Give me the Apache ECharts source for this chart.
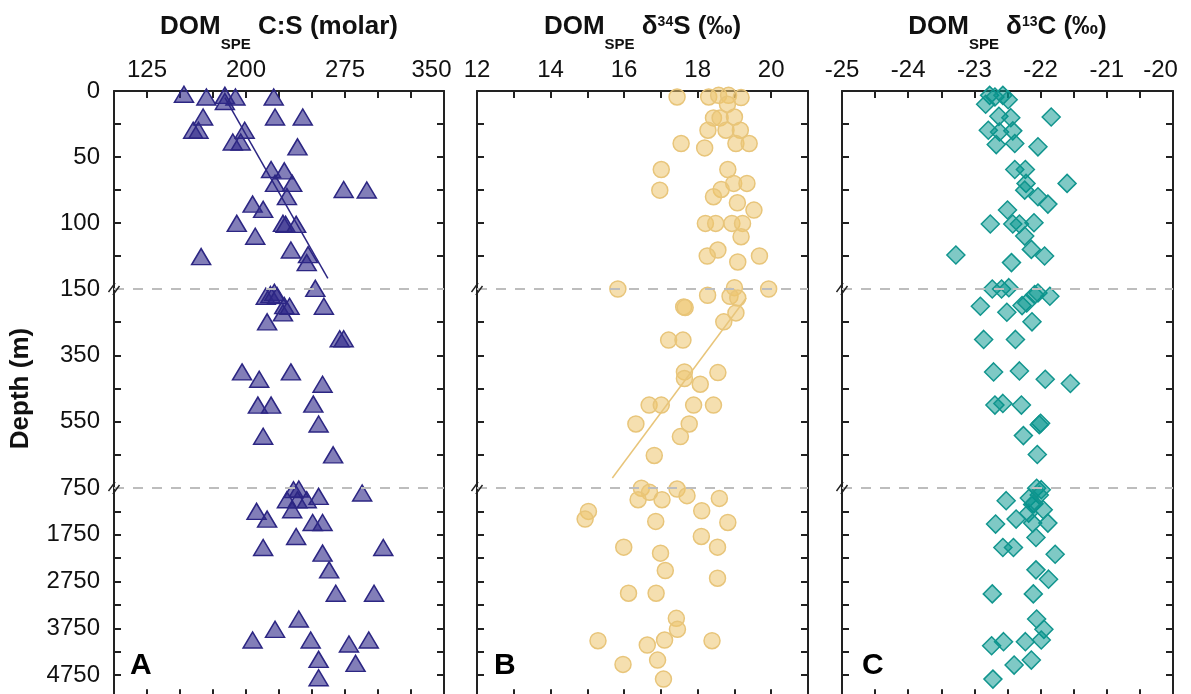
<!DOCTYPE html>
<html><head><meta charset="utf-8">
<script src="https://cdn.jsdelivr.net/npm/echarts@6/dist/echarts.min.js"></script>
<style>html,body{margin:0;padding:0;overflow:hidden;background:#fff}#c{width:1191px;height:700px}</style>
</head><body><div id="c"></div><script>
// ---------------- DATA ----------------
// depth segments of the broken depth axis (m)
const depthSegments = [[0, 150], [150, 750], [750, 5200]];
const depthTicks = [[25, 50, 75, 100, 125], [250, 350, 450, 550, 650], [1250, 1750, 2250, 2750, 3250, 3750, 4250, 4750]];
const depthLabels = [[0, 50, 100, 150], [350, 550, 750], [1750, 2750, 3750, 4750]];

// Panel A: DOM_SPE C:S (molar)  [value, depth]
const csRange = [100, 350];
const csTicks = [125, 150, 175, 200, 225, 250, 275, 300, 325];
const csLabels = [125, 200, 275, 350];
const csPoints = [
  [153,2.5],[170,4.5],[184,3.3],[192,4.5],[184,8],[221,4.5],
  [167.5,19.7],[222,19.7],[243,19.7],[160,29.7],[164,29.7],[199,29.7],
  [190,38.6],[196,38.6],[239,42.3],[219,59.5],[229,60.5],[222,70],[235,70],
  [274,74.6],[291.5,75],[231,80],[205,85.7],[213,89.7],[193,100.3],[228,100.3],
  [230,101],[238,101],[207,110],[234,120.5],[247,124],[246,130],[166,125.5],[252.5,149.5],
  [215,172],[218.5,167],[221.5,160],[223.5,170],[228,222],[229,200],[233,202],[259,202],
  [216,249],[271,300],[274,300],[197,400],[210,422],[234,400],[258,437],[209,500],
  [219,500],[251,497],[255,557],[213,594],[266,650],
  [236,786],[240,772],[231,1000],[239,1000],[246,1000],[255,929],[288,857],[208,1250],
  [216,1414],[235,1215],[250.5,1486],[258,1486],[238,1786],[213,2021],[304,2021],[258,2142],
  [263,2499],[268,2998],[297,2998],[240,3548],[222,3769],[205,3998],[249,3998],[278,4083],
  [293,3998],[255,4411],[283,4497],[255,4804]
];
const csTrend = [[184,5],[262,142]];

// Panel B: DOM_SPE δ34S (‰)
const s34Range = [12, 21];
const s34Ticks = [13, 14, 15, 16, 17, 18, 19, 20];
const s34Labels = [12, 14, 16, 18, 20];
const s34Points = [
  [17.44,4.5],[18.30,4.5],[18.57,3.3],[18.84,3.3],[19.18,5],[18.81,10],[18.43,20.4],[18.61,20.4],
  [19.00,19.7],[18.28,29.7],[18.77,29.7],[19.16,29.7],[17.55,39.8],[18.19,43.1],[19.04,39.8],
  [19.40,39.8],[17.01,59.5],[18.82,59.5],[18.98,70],[19.34,70],[18.64,74.6],[16.97,75.1],
  [18.43,80.1],[19.08,84.7],[19.53,90.2],[18.21,100.3],[18.49,100.3],[18.93,100.3],[19.22,100.3],
  [19.18,110.4],[18.55,120.5],[18.26,125],[19.09,129.5],[19.68,125],[15.83,150],[19.0,149],[19.93,150],
  [18.27,169],[18.88,172],[19.09,177],[17.62,204],[17.66,206],[19.04,222],[18.71,249],[17.21,304],
  [17.60,304],[17.64,400],[17.64,420],[18.55,402],[18.07,437],[16.68,500],[17.01,500],[17.89,500],
  [18.43,500],[16.32,557],[17.77,557],[17.53,595],[16.82,652],
  [16.47,755],[16.69,843],[17.44,772],[17.71,914],[16.38,1000],[17.03,1000],[18.59,972],[15.03,1250],
  [14.94,1414],[16.86,1464],[18.11,1236],[18.82,1486],[18.10,1786],[18.54,2014],[15.99,2014],
  [16.99,2142],[17.12,2513],[18.54,2677],[16.12,2998],[16.87,2998],[17.42,3534],[17.45,3769],
  [15.29,4012],[17.10,3998],[18.39,4012],[16.63,4105],[16.91,4426],[15.97,4519],[17.07,4833]
];
const s34Trend = [[19.32,177],[15.68,720]];

// Panel C: DOM_SPE δ13C (‰)
const c13Range = [-25, -20];
const c13Ticks = [-24.5, -24, -23.5, -23, -22.5, -22, -21.5, -21, -20.5];
const c13Labels = [-25, -24, -23, -22, -21, -20];
const c13Points = [
  [-22.77,3.3],[-22.69,4.5],[-22.57,3.3],[-22.49,6.6],[-22.83,10],[-22.63,19.2],[-22.45,20.2],
  [-21.84,19.7],[-22.79,29.7],[-22.62,31],[-22.42,30.2],[-22.67,40.6],[-22.39,39.8],[-22.04,42.3],
  [-22.39,59.5],[-22.23,59.5],[-22.22,70],[-22.24,75.1],[-21.60,70],[-22.04,80.1],[-21.89,85.7],
  [-22.50,90.2],[-22.76,100.8],[-22.42,100.8],[-22.32,100.8],[-22.10,99.8],[-22.24,109.9],
  [-22.14,120],[-21.94,125],[-23.28,124.2],[-22.44,130],[-22.73,150],[-22.59,150],[-22.48,149],
  [-22.09,167],[-22.04,162],[-21.86,172],[-22.91,202],[-22.51,220],[-22.28,200],[-22.21,192],
  [-22.13,249],[-22.86,302],[-22.38,302],[-22.71,400],[-22.32,397],[-21.93,422],[-21.55,435],
  [-22.69,500],[-22.57,495],[-22.29,500],[-22.00,555],[-22.02,559],[-22.26,592],[-22.05,649],
  [-22.06,755],[-21.99,786],[-22.02,900],[-22.17,964],[-22.52,1021],[-22.10,1086],[-22.12,1100],
  [-21.96,1214],[-22.18,1286],[-22.68,1521],[-22.37,1414],[-22.12,1500],[-21.89,1500],[-22.07,1807],
  [-22.57,2021],[-22.41,2021],[-21.78,2164],[-22.07,2499],[-21.88,2698],[-22.73,3012],[-22.11,3012],
  [-22.06,3548],[-21.95,3769],[-22.74,4119],[-22.56,4033],[-22.23,4033],[-21.99,3998],[-22.40,4533],
  [-22.14,4426],[-22.72,4833]
];

const titleA = '{m|DOM}{s|SPE}{m| C:S (molar)}';
const titleB = '{m|DOM}{s|SPE}{m| δ}{p|34}{m|S (‰)}';
const titleC = '{m|DOM}{s|SPE}{m| δ}{p|13}{m|C (‰)}';
const panelLetters = ['A', 'B', 'C'];
const depthName = 'Depth (m)';

// ---------------- LAYOUT / STYLE ----------------
const FONT = '"Liberation Sans", Arial, Helvetica, sans-serif';
const AX = '#222';
const TXT = '#111';
const panelLeft = [114, 477, 842];
const panelWidth = [330, 331, 331];
const rowTop = [91, 289, 488];
const rowHeight = [198, 199, 208.3];

const panels = [
  { range: csRange, ticks: csTicks, labels: csLabels, pts: csPoints, trend: csTrend, trendRow: 0, shift: 350,
    sym: 'triangle', size: [19, 16], fill: 'rgba(47,40,137,0.6)', stroke: '#2c2683', title: titleA },
  { range: s34Range, ticks: s34Ticks, labels: s34Labels, pts: s34Points, trend: s34Trend, trendRow: 1, shift: null,
    sym: 'circle', size: 16, fill: 'rgba(236,196,110,0.55)', stroke: '#e8c57a', title: titleB },
  { range: c13Range, ticks: c13Ticks, labels: c13Labels, pts: c13Points, trend: null, shift: -20,
    sym: 'diamond', size: [18, 18], fill: 'rgba(0,148,140,0.5)', stroke: '#11958e', title: titleC }
];

function inRow(d, r) {
  const [lo, hi] = depthSegments[r];
  return r === 0 ? d <= hi : (d > lo && d <= hi);
}

const grid = [], xAxis = [], yAxis = [], series = [], graphic = [];
const lineStyle = { color: AX, width: 2 };

panels.forEach((P, p) => {
  for (let r = 0; r < 3; r++) {
    const gi = p * 3 + r;
    grid.push({ left: panelLeft[p], top: rowTop[r], width: panelWidth[p], height: rowHeight[r], containLabel: false });
    xAxis.push({
      gridIndex: gi, type: 'value', min: P.range[0], max: P.range[1],
      position: r === 2 ? 'bottom' : 'top', show: r !== 1,
      axisLine: { show: true, onZero: false, lineStyle },
      axisTick: { show: true, inside: true, length: 7, customValues: P.ticks, lineStyle },
      axisLabel: {
        show: r === 0, customValues: P.labels, margin: 9, fontSize: 24, fontFamily: FONT, color: TXT,
        formatter: v => (v === P.shift ? '{r|' + v + '}' : String(v)),
        rich: { r: { fontSize: 24, fontFamily: FONT, color: TXT, padding: [0, 25, 0, 0] } }
      },
      splitLine: { show: false }
    });
    ['left', 'right'].forEach(side => {
      const showLab = p === 0 && side === 'left';
      yAxis.push({
        gridIndex: gi, type: 'value', inverse: true, min: depthSegments[r][0], max: depthSegments[r][1],
        position: side,
        axisLine: { show: true, onZero: false, lineStyle },
        axisTick: { show: true, inside: true, length: 7, customValues: depthTicks[r], lineStyle },
        axisLabel: { show: showLab, customValues: depthLabels[r], margin: 14, fontSize: 24, fontFamily: FONT, color: TXT,
          formatter: v => String(v) },
        splitLine: { show: false },
        name: (showLab && r === 1) ? depthName : '',
        nameLocation: 'middle', nameRotate: 90, nameGap: 80,
        nameTextStyle: { fontSize: 26, fontWeight: 'bold', fontFamily: FONT, color: TXT }
      });
    });
    series.push({
      type: 'scatter', xAxisIndex: gi, yAxisIndex: gi * 2, z: 3,
      symbol: P.sym, symbolSize: P.size,
      itemStyle: { color: P.fill, borderColor: P.stroke, borderWidth: 1.5, opacity: 1 },
      data: P.pts.filter(d => inRow(d[1], r))
    });
    if (P.trend && P.trendRow === r) {
      series.push({
        type: 'line', xAxisIndex: gi, yAxisIndex: gi * 2, z: 4, symbol: 'none',
        lineStyle: { color: P.stroke, width: 1.5 }, data: P.trend
      });
    }
    if (r === 1) {
      series.push({
        type: 'line', xAxisIndex: gi, yAxisIndex: gi * 2, z: 1, data: [], silent: true,
        markLine: {
          silent: true, symbol: ['none', 'none'], label: { show: false },
          lineStyle: { color: '#bdbdbd', width: 2, type: [10, 9] },
          data: depthSegments.slice(1).map(s => ({ yAxis: s[0] }))
        },
        markPoint: {
          silent: true, symbol: 'path://M0,9 L6,0 M4,12 L10,3', symbolSize: [11, 12],
          itemStyle: { color: 'none', borderColor: AX, borderWidth: 1.5 }, label: { show: false },
          data: depthSegments.slice(1).map(s => ({ coord: [P.range[0], s[0]] }))
        }
      });
    }
  }
  graphic.push({
    type: 'text', x: panelLeft[p] + panelWidth[p] / 2, y: 14,
    style: {
      text: P.title, textAlign: 'center', textVerticalAlign: 'top', align: 'center', verticalAlign: 'top',
      fill: TXT, font: 'bold 26px ' + FONT,
      rich: {
        m: { fontSize: 26, fontWeight: 'bold', fontFamily: FONT, fill: TXT, lineHeight: 26, verticalAlign: 'top' },
        s: { fontSize: 15, fontWeight: 'bold', fontFamily: FONT, fill: TXT, lineHeight: 15, verticalAlign: 'top', padding: [23, 0, 0, 0] },
        p: { fontSize: 14, fontWeight: 'bold', fontFamily: FONT, fill: TXT, lineHeight: 14, verticalAlign: 'top', padding: [1, 0, 0, 0] }
      }
    }
  });
  graphic.push({
    type: 'text', x: panelLeft[p] + [16, 17, 20][p], y: 651,
    style: { text: panelLetters[p], fill: '#000', font: 'bold 30px ' + FONT, textVerticalAlign: 'top', verticalAlign: 'top' }
  });
});

const chart = echarts.init(document.getElementById('c'), null, { renderer: 'canvas' });
chart.setOption({ animation: false, backgroundColor: '#fff', grid, xAxis, yAxis, series, graphic });
</script></body></html>
